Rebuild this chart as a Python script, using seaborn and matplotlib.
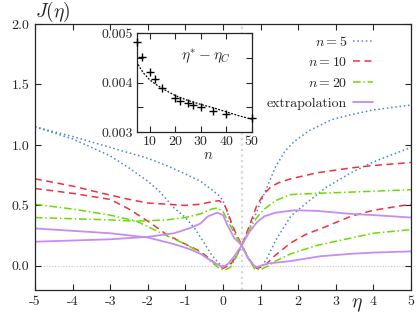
import numpy as np
import pandas as pd
import seaborn as sns
import matplotlib.pyplot as plt
from matplotlib.lines import Line2D

# ---- main panel data: two branches per n (min near eta=0 and min near eta=1) ----
eta_n5_a = [-5, -4, -3, -2, -1.5, -1, -0.6, -0.3, -0.1, 0.0, 0.1, 0.2, 0.35, 0.5, 0.65, 0.8, 0.9, 1.0, 1.15, 1.4,
            1.8, 2.1, 2.7, 3.4, 4, 5]
J_n5_a = [1.15, 1.07, 0.98, 0.89, 0.83, 0.76, 0.70, 0.63, 0.58, 0.54, 0.46, 0.36, 0.25, 0.17, 0.08, 0.01, -0.02,
          -0.01, 0.05, 0.21, 0.41, 0.49, 0.64, 0.77, 0.86, 0.98]
eta_n5_b = [-5, -4, -3, -2.5, -2, -1.7, -1.3, -1, -0.75, -0.5, -0.3, -0.1, 0.05, 0.2, 0.35, 0.5, 0.7, 0.9, 1.1, 1.4,
            1.65, 1.9, 2.3, 2.9, 3.4, 4, 5]
J_n5_b = [1.15, 1.05, 0.91, 0.81, 0.70, 0.62, 0.48, 0.40, 0.31, 0.19, 0.09, 0.02, -0.01, 0.02, 0.08, 0.17, 0.31,
          0.45, 0.60, 0.82, 0.95, 1.03, 1.12, 1.21, 1.25, 1.29, 1.33]

eta_n10_a = [-5, -4, -3.2, -2.5, -2, -1.5, -1, -0.6, -0.3, -0.1, 0.05, 0.15, 0.3, 0.5, 0.7, 0.9, 1.1, 1.4, 1.8, 2.2,
             2.7, 3.4, 4, 5]
J_n10_a = [0.72, 0.66, 0.60, 0.55, 0.52, 0.51, 0.50, 0.51, 0.53, 0.54, 0.50, 0.42, 0.30, 0.17, 0.05, -0.02, 0.00,
           0.09, 0.19, 0.26, 0.32, 0.41, 0.46, 0.51]
eta_n10_b = [-5, -4, -3, -2.5, -2, -1.5, -1, -0.6, -0.4, -0.2, 0.0, 0.2, 0.35, 0.5, 0.7, 0.9, 1.1, 1.3, 1.5, 1.8,
             2.5, 3.4, 4, 5]
J_n10_b = [0.64, 0.60, 0.55, 0.47, 0.37, 0.26, 0.18, 0.12, 0.07, 0.02, -0.02, 0.01, 0.08, 0.17, 0.33, 0.50, 0.60,
           0.66, 0.69, 0.72, 0.77, 0.81, 0.83, 0.855]

eta_n20_a = [-5, -4, -3, -2.3, -1.5, -1, -0.6, -0.3, -0.15, 0.0, 0.15, 0.3, 0.5, 0.7, 0.85, 1.0, 1.2, 1.4, 1.8, 2.5,
             3.4, 4, 5]
J_n20_a = [0.40, 0.39, 0.38, 0.37, 0.38, 0.40, 0.43, 0.47, 0.48, 0.45, 0.36, 0.27, 0.17, 0.05, -0.03, -0.03, 0.00,
           0.04, 0.10, 0.17, 0.23, 0.27, 0.30]
eta_n20_b = [-5, -4, -3, -2.3, -1.5, -1, -0.6, -0.3, -0.1, 0.05, 0.2, 0.35, 0.5, 0.7, 0.9, 1.1, 1.4, 1.8, 2.5, 3.4, 5]
J_n20_b = [0.51, 0.47, 0.42, 0.37, 0.25, 0.18, 0.11, 0.03, -0.02, -0.035, -0.01, 0.07, 0.17, 0.30, 0.40, 0.47, 0.54,
           0.59, 0.60, 0.61, 0.63]

eta_ext_a = [-5, -4, -3, -2, -1.3, -0.9, -0.6, -0.4, -0.15, 0.0, 0.13, 0.3, 0.5, 0.65, 0.8, 0.9, 1.2, 1.8, 2.6, 3.4,
             4, 5]
J_ext_a = [0.20, 0.21, 0.22, 0.24, 0.27, 0.31, 0.35, 0.41, 0.44, 0.42, 0.33, 0.23, 0.17, 0.07, 0.01, -0.01, 0.02,
           0.04, 0.08, 0.10, 0.11, 0.12]
eta_ext_b = [-5, -4, -3, -2, -1.3, -0.9, -0.6, -0.4, -0.2, 0.0, 0.15, 0.3, 0.5, 0.7, 0.9, 1.1, 1.4, 1.9, 2.5, 3.4,
             4, 5]
J_ext_b = [0.31, 0.29, 0.27, 0.235, 0.18, 0.14, 0.10, 0.06, 0.02, -0.01, 0.02, 0.08, 0.17, 0.28, 0.36, 0.41, 0.44,
           0.46, 0.455, 0.43, 0.42, 0.40]

# ---- inset data ----
n_points = [5, 7, 10, 12, 15, 20, 22, 25, 27, 30, 35, 40, 50]
gap_points = [0.00482, 0.00451, 0.00422, 0.00408, 0.00389, 0.00368, 0.00363, 0.00358, 0.00355, 0.00350, 0.00343,
              0.00336, 0.00328]
n_fit = [5, 6, 7, 8, 10, 12, 15, 20, 25, 30, 35, 40, 45, 50]
gap_fit = [0.00443, 0.00432, 0.00424, 0.00417, 0.00406, 0.00398, 0.00388, 0.00374, 0.00364, 0.00356, 0.00349,
           0.00341, 0.00333, 0.00326]

legend_labels = ['$n=5$', '$n=10$', '$n=20$', 'extrapolation']

sns.set_style('ticks')
plt.rcParams['font.family'] = ['cmr10', 'DejaVu Serif']
plt.rcParams['mathtext.fontset'] = 'cm'
plt.rcParams['axes.unicode_minus'] = False

fig = plt.figure(figsize=(4.16, 3.16), dpi=100)
ax = fig.add_axes([0.084, 0.082, 0.904, 0.842])

blue, red, green, purple = '#4a82de', '#f2303c', '#6cdc00', '#c88cf0'
styles = [(0, (1, 1.8)), (0, (4.5, 3)), (0, (5, 1.8, 1, 1.8)), '-']
colors = [blue, red, green, purple]
curves = [(eta_n5_a, J_n5_a, eta_n5_b, J_n5_b),
          (eta_n10_a, J_n10_a, eta_n10_b, J_n10_b),
          (eta_n20_a, J_n20_a, eta_n20_b, J_n20_b),
          (eta_ext_a, J_ext_a, eta_ext_b, J_ext_b)]

ax.axhline(0, color='#c8c8c8', lw=0.8, ls=(0, (1, 1.5)), zorder=0)
ax.axvline(0.5, color='#d8d8d8', lw=1.6, ls=(0, (1, 1.5)), zorder=0)

for (xa, ya, xb, yb), c, ls in zip(curves, colors, styles):
    lw = 1.3 if ls == '-' else 1.1
    sns.lineplot(x=xa, y=ya, ax=ax, color=c, linestyle=ls, lw=lw)
    sns.lineplot(x=xb, y=yb, ax=ax, color=c, linestyle=ls, lw=lw)

ax.set_xlim(-5, 5)
ax.set_ylim(-0.2, 2.0)
ax.set_xticks(range(-5, 6))
ax.set_xticklabels([str(i) for i in range(-5, 6)])
ax.set_yticks([0, 0.5, 1.0, 1.5, 2.0])
ax.set_yticklabels(['0.0', '0.5', '1.0', '1.5', '2.0'])
ax.tick_params(direction='in', top=True, right=True, length=4, width=0.8, labelsize=10, pad=4)
for s in ax.spines.values():
    s.set_linewidth(0.9)
ax.set_xlabel('')
ax.set_ylabel('')
ax.text(0.048, 1.045, r'$J(\eta)$', transform=ax.transAxes, ha='center', va='center', fontsize=14)
ax.text(0.856, -0.058, r'$\eta$', transform=ax.transAxes, ha='center', va='center', fontsize=14)

handles = [Line2D([], [], color=c, linestyle=ls, lw=1.3 if ls == '-' else 1.1) for c, ls in zip(colors, styles)]
ax.legend(handles, legend_labels, loc='upper right', bbox_to_anchor=(0.9, 0.96), frameon=False, fontsize=10,
          markerfirst=False, handlelength=1.5, handletextpad=0.4, labelspacing=0.55, borderpad=0, borderaxespad=0)

# ---- inset ----
axin = fig.add_axes([0.329, 0.582, 0.276, 0.313])
sns.lineplot(x=n_fit, y=gap_fit, ax=axin, color='black', linestyle=(0, (1.5, 1.2)), lw=0.9)
sns.scatterplot(x=n_points, y=gap_points, ax=axin, marker='+', color='black', s=35, linewidth=1.0, clip_on=False,
                zorder=5)
axin.set_xlim(5, 50)
axin.set_ylim(0.003, 0.005)
axin.set_xticks([10, 20, 30, 40, 50])
axin.set_xticklabels(['10', '20', '30', '40', '50'])
axin.set_yticks([0.003, 0.0035, 0.004, 0.0045, 0.005])
axin.set_yticklabels(['0.003', '', '0.004', '', '0.005'])
axin.tick_params(direction='in', top=True, right=True, length=4, width=0.8, labelsize=10, pad=3)
for s in axin.spines.values():
    s.set_linewidth(0.9)
axin.set_xlabel('')
axin.set_ylabel('')
axin.text(0.62, -0.235, r'$n$', transform=axin.transAxes, ha='center', va='center', fontsize=10.5)
axin.text(0.6, 0.76, r'$\eta^{*}-\eta_C$', transform=axin.transAxes, ha='center', va='center', fontsize=11)

fig.savefig('out.png', dpi=100)
